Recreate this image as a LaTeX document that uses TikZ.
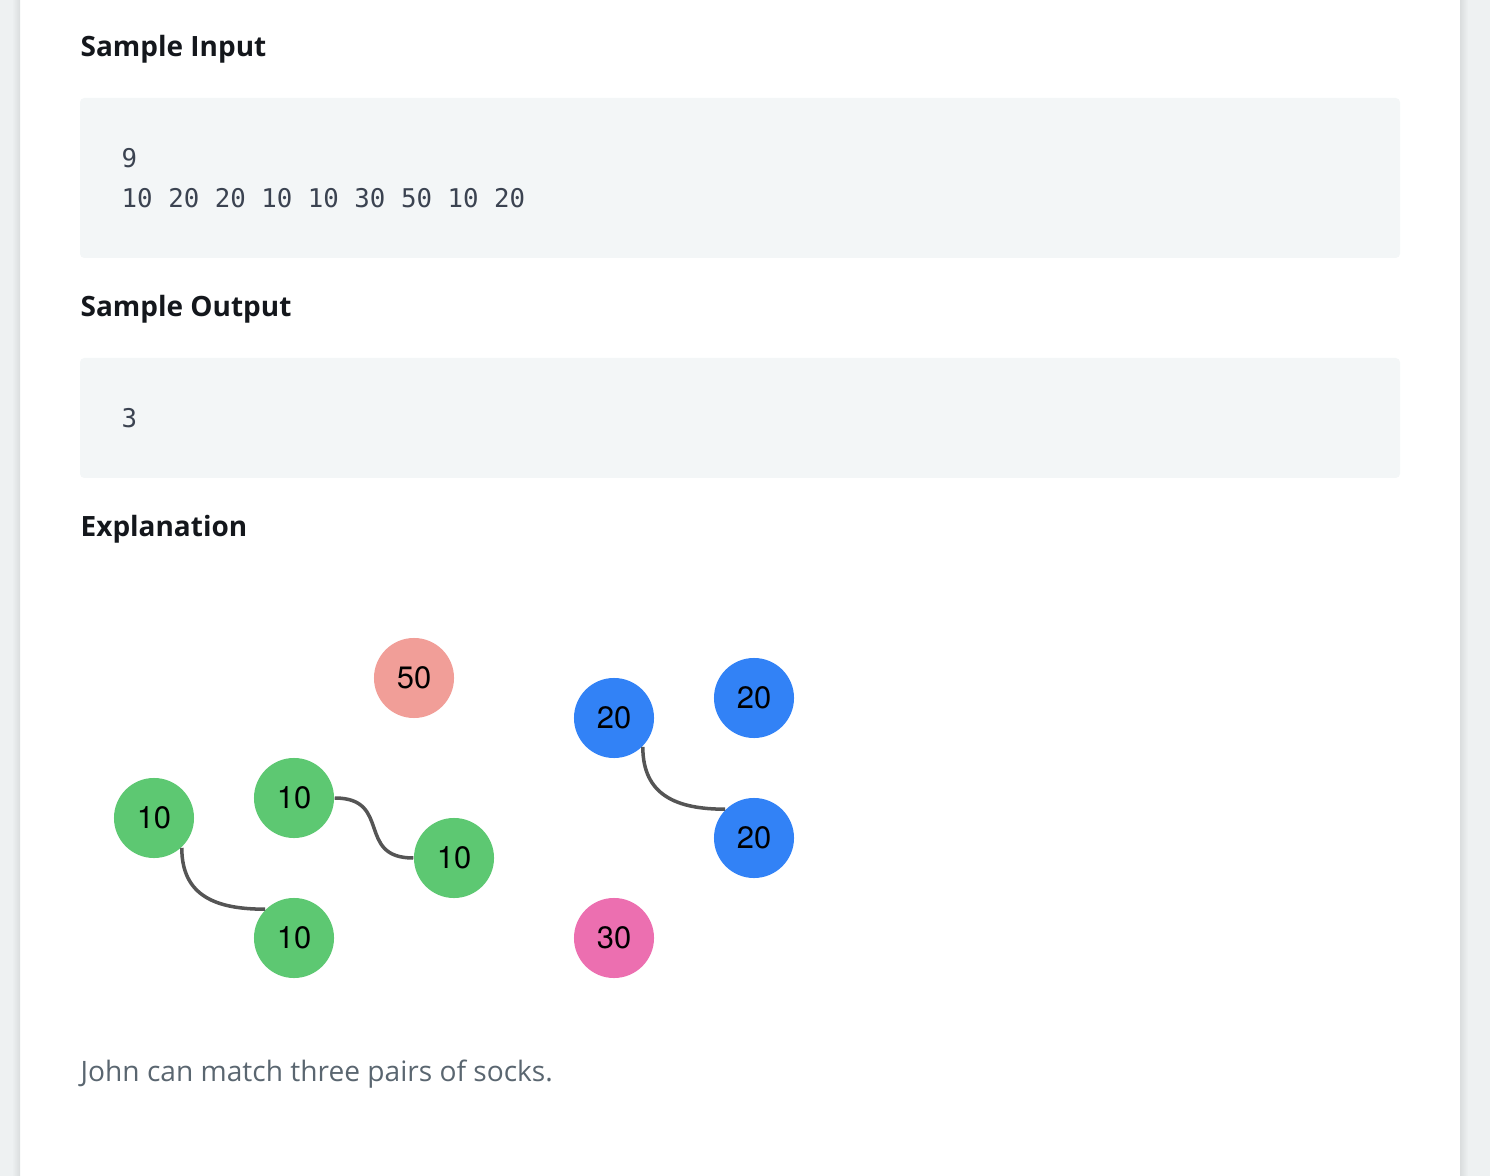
\documentclass[tikz,border=0pt]{standalone}
\usepackage{fontspec}
\setmainfont{Open Sans}
\setmonofont{DejaVu Sans Mono}
\newfontfamily\sockfont{TeX Gyre Heros}
\definecolor{pagegray}{HTML}{EEF1F2}
\definecolor{edgegray}{HTML}{DADDDE}
\definecolor{codebg}{HTML}{F3F6F7}
\definecolor{codetext}{HTML}{3B4351}
\definecolor{headtext}{HTML}{14171C}
\definecolor{bodytext}{HTML}{5A6670}
\definecolor{sockgreen}{HTML}{5DC872}
\definecolor{sockblue}{HTML}{3282F6}
\definecolor{socksalmon}{HTML}{F19E98}
\definecolor{sockpink}{HTML}{EC6FB0}
\definecolor{pairline}{HTML}{555555}

\begin{document}
\begin{tikzpicture}[x=0.01cm, y=-0.01cm,
    heading/.style={anchor=base west, inner sep=0, text=headtext, font=\fontsize{7.95}{10}\selectfont\bfseries},
    codebox/.style={fill=codebg, rounded corners=1.2pt},
    code/.style={anchor=base west, inner sep=0, text=codetext, font=\fontsize{7.33}{9}\selectfont\ttfamily},
    sock/.style={circle, inner sep=0, minimum size=0.8cm, font=\fontsize{8.8}{10}\selectfont\sockfont},
    pair/.style={draw=pairline, line width=1pt}]
    \useasboundingbox (0,0) rectangle (1490,1176);
    % page edges
    \fill[pagegray] (0,0) rectangle (20,1176);
    \shade[left color=pagegray, right color=edgegray] (12,0) rectangle (20,1176);
    \fill[pagegray] (1460,0) rectangle (1490,1176);
    \shade[left color=edgegray, right color=pagegray] (1460,0) rectangle (1468,1176);

    \node[heading] (inhead) at (80,57) {Sample Input};
    \fill[codebox] (80,98) rectangle (1400,258);
    \node[code] (incount) at (121,168) {9};
    \node[code] (inlist) at (121,208) {10 20 20 10 10 30 50 10 20};

    \node[heading] (outhead) at (80,317) {Sample Output};
    \fill[codebox] (80,358) rectangle (1400,478);
    \node[code] (outval) at (121,428) {3};

    \node[heading] (exphead) at (80,537) {Explanation};

    \node[sock, fill=socksalmon] (s50) at (414,678) {50};
    \node[sock, fill=sockblue] (b1) at (614,718) {20};
    \node[sock, fill=sockblue] (b2) at (754,698) {20};
    \node[sock, fill=sockblue] (b3) at (754,838) {20};
    \node[sock, fill=sockpink] (s30) at (614,938) {30};
    \node[sock, fill=sockgreen] (g1) at (154,818) {10};
    \node[sock, fill=sockgreen] (g2) at (294,798) {10};
    \node[sock, fill=sockgreen] (g3) at (454,858) {10};
    \node[sock, fill=sockgreen] (g4) at (294,938) {10};

    \draw[pair] (g1.-47) to[out=-90, in=180, looseness=1.2] (g4.135);
    \draw[pair] (g2.east) to[out=0, in=180, looseness=1.5] (g3.west);
    \draw[pair] (b1.-45) to[out=-90, in=180, looseness=1.2] (b3.135);

    \node[anchor=base west, inner sep=0, text=bodytext, font=\fontsize{8}{10}\selectfont] (note) at (80,1081) {John can match three pairs of socks.};
\end{tikzpicture}
\end{document}
